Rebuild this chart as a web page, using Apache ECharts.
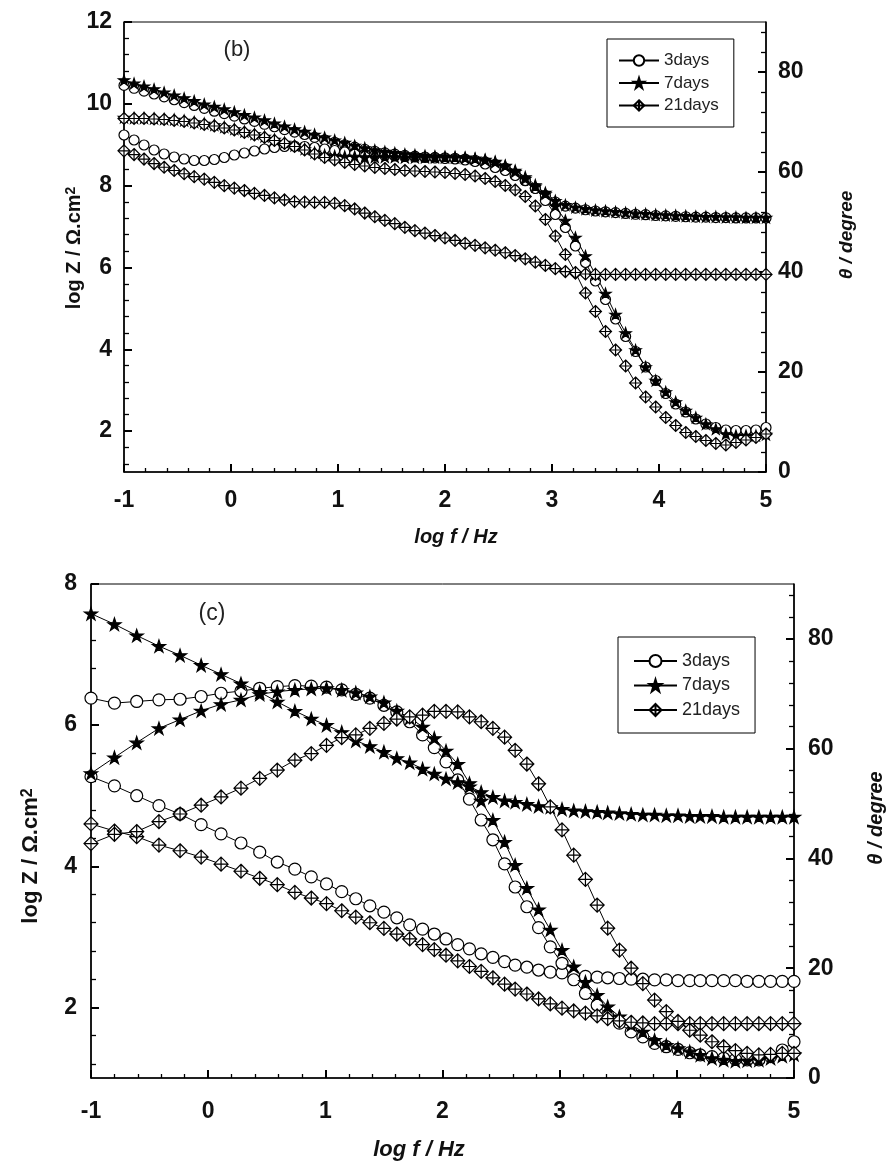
<!DOCTYPE html>
<html><head><meta charset="utf-8">
<script src="https://cdn.jsdelivr.net/npm/echarts@6/dist/echarts.min.js"></script>
<style>html,body{margin:0;padding:0;background:#fff}#c{width:890px;height:1164px}</style>
</head><body><div id="c"></div>
<script>
// ---------- Panel (b) ----------
const xB = [-1, -0.906, -0.813, -0.719, -0.625, -0.531, -0.438, -0.344, -0.25, -0.156, -0.063,
  0.031, 0.125, 0.219, 0.313, 0.406, 0.5, 0.594, 0.688, 0.781, 0.875, 0.969,
  1.063, 1.156, 1.25, 1.344, 1.438, 1.531, 1.625, 1.719, 1.813, 1.906,
  2.0, 2.094, 2.188, 2.281, 2.375, 2.469, 2.563, 2.656, 2.75, 2.844, 2.938,
  3.031, 3.125, 3.219, 3.313, 3.406, 3.5, 3.594, 3.688, 3.781, 3.875, 3.969,
  4.063, 4.156, 4.25, 4.344, 4.438, 4.531, 4.625, 4.719, 4.813, 4.906, 5.0];
const logZ3b = [10.45, 10.38, 10.31, 10.24, 10.17, 10.10, 10.03, 9.96, 9.89, 9.82,
  9.76, 9.70, 9.63, 9.57, 9.50, 9.44, 9.37, 9.31, 9.25, 9.18,
  9.12, 9.06, 9.00, 8.94, 8.89, 8.84, 8.80, 8.77, 8.74, 8.72,
  8.70, 8.69, 8.68, 8.67, 8.65, 8.62, 8.58, 8.52, 8.43, 8.29,
  8.12, 7.94, 7.76, 7.60, 7.50, 7.45, 7.41, 7.38, 7.36, 7.34,
  7.32, 7.30, 7.29, 7.27, 7.26, 7.25, 7.24, 7.23, 7.23, 7.22,
  7.22, 7.21, 7.21, 7.21, 7.21];
const logZ7b = [10.58, 10.50, 10.43, 10.36, 10.28, 10.21, 10.14, 10.07, 9.99, 9.93,
  9.87, 9.80, 9.73, 9.67, 9.60, 9.52, 9.45, 9.38, 9.32, 9.25,
  9.18, 9.11, 9.05, 8.98, 8.92, 8.87, 8.83, 8.80, 8.77, 8.75,
  8.73, 8.72, 8.71, 8.70, 8.69, 8.66, 8.62, 8.57, 8.48, 8.34,
  8.17, 7.98, 7.83, 7.63, 7.53, 7.47, 7.43, 7.40, 7.38, 7.36,
  7.34, 7.32, 7.31, 7.29, 7.28, 7.27, 7.26, 7.25, 7.24, 7.24,
  7.23, 7.23, 7.22, 7.22, 7.22];
const logZ21b = [8.85, 8.76, 8.65, 8.54, 8.45, 8.37, 8.29, 8.22, 8.16, 8.08,
  8.00, 7.94, 7.88, 7.81, 7.76, 7.70, 7.65, 7.61, 7.60, 7.59,
  7.59, 7.57, 7.51, 7.43, 7.33, 7.24, 7.15, 7.07, 6.98, 6.90,
  6.84, 6.78, 6.72, 6.66, 6.59, 6.54, 6.48, 6.42, 6.36, 6.29,
  6.21, 6.13, 6.05, 5.97, 5.90, 5.86, 5.84, 5.83, 5.83, 5.83,
  5.83, 5.83, 5.83, 5.83, 5.83, 5.83, 5.83, 5.83, 5.83, 5.83,
  5.83, 5.83, 5.83, 5.83, 5.83];
const theta3b = [67.4, 66.4, 65.4, 64.4, 63.6, 63.0, 62.6, 62.3, 62.3, 62.5,
  62.9, 63.4, 63.8, 64.2, 64.6, 64.9, 65.1, 65.2, 65.1, 64.9,
  64.6, 64.3, 64.0, 63.8, 63.6, 63.4, 63.3, 63.2, 63.1, 63.0,
  62.9, 62.8, 62.7, 62.6, 62.4, 62.1, 61.6, 60.9, 60.3, 59.3,
  58.3, 56.7, 54.3, 51.5, 48.9, 45.2, 41.9, 38.2, 34.5, 30.6,
  27.1, 24.1, 21.0, 18.3, 15.7, 13.6, 12.0, 10.6, 9.6, 8.9,
  8.4, 8.3, 8.3, 8.4, 8.9];
const theta7b = [70.9, 70.8, 70.8, 70.7, 70.6, 70.5, 70.3, 70.0, 69.7, 69.4,
  69.0, 68.6, 68.1, 67.6, 67.1, 66.5, 65.9, 65.3, 64.6, 63.9,
  63.4, 63.2, 63.1, 63.1, 63.0, 63.0, 63.0, 63.0, 62.9, 62.9,
  62.9, 62.9, 62.9, 62.9, 62.8, 62.7, 62.5, 62.1, 61.3, 60.3,
  59.0, 57.4, 55.6, 53.2, 50.3, 46.9, 43.2, 39.5, 35.7, 31.5,
  27.8, 24.4, 21.0, 18.3, 16.0, 14.0, 12.3, 10.9, 9.6, 8.6,
  7.6, 7.3, 7.3, 7.3, 7.5];
const theta21b = [70.7, 70.7, 70.7, 70.6, 70.5, 70.3, 70.1, 69.8, 69.5, 69.2,
  68.8, 68.4, 67.9, 67.4, 66.9, 66.3, 65.7, 65.1, 64.4, 63.6,
  62.9, 62.4, 61.9, 61.5, 61.2, 60.9, 60.7, 60.5, 60.3, 60.2,
  60.1, 60.0, 59.9, 59.7, 59.5, 59.2, 58.7, 58.1, 57.3, 56.4,
  55.1, 53.2, 50.5, 47.2, 43.5, 39.9, 35.8, 32.1, 28.1, 24.4,
  21.2, 17.8, 15.0, 13.0, 10.9, 9.3, 7.9, 7.1, 6.3, 5.7,
  5.4, 5.9, 6.4, 6.9, 7.6];

// ---------- Panel (c) ----------
const xC = [-1.0, -0.8, -0.61, -0.42, -0.24, -0.06, 0.11, 0.28, 0.44, 0.59,
  0.74, 0.88, 1.01, 1.14, 1.26, 1.38, 1.5, 1.61, 1.72, 1.83, 1.93,
  2.03, 2.13, 2.23, 2.33, 2.43, 2.53, 2.62, 2.72, 2.82, 2.92,
  3.02, 3.12, 3.22, 3.32, 3.41, 3.51, 3.61, 3.71, 3.81, 3.91,
  4.01, 4.11, 4.2, 4.3, 4.4, 4.5, 4.6, 4.7, 4.8, 4.9, 5.0];
const logZ3c = [5.27, 5.14, 5.0, 4.86, 4.74, 4.59, 4.46, 4.33, 4.2, 4.06,
  3.96, 3.85, 3.75, 3.64, 3.54, 3.44, 3.35, 3.27, 3.17, 3.11,
  3.04, 2.97, 2.89, 2.83, 2.76, 2.71, 2.65, 2.60, 2.57, 2.53,
  2.50, 2.49, 2.45, 2.44, 2.43, 2.42, 2.41, 2.40, 2.40, 2.39,
  2.39, 2.38, 2.38, 2.38, 2.38, 2.38, 2.38, 2.37, 2.37, 2.37,
  2.37, 2.37];
const logZ7c = [7.58, 7.43, 7.27, 7.12, 6.99, 6.85, 6.72, 6.59, 6.47, 6.33,
  6.20, 6.09, 6.0, 5.90, 5.78, 5.70, 5.62, 5.53, 5.47, 5.38,
  5.31, 5.24, 5.19, 5.13, 5.05, 4.98, 4.93, 4.91, 4.88, 4.85,
  4.84, 4.81, 4.79, 4.78, 4.77, 4.76, 4.75, 4.74, 4.73, 4.73,
  4.72, 4.72, 4.71, 4.71, 4.71, 4.70, 4.70, 4.70, 4.70, 4.70,
  4.70, 4.70];
const logZ21c = [4.60, 4.50, 4.42, 4.30, 4.22, 4.13, 4.03, 3.93, 3.83, 3.74,
  3.63, 3.55, 3.47, 3.37, 3.28, 3.20, 3.12, 3.04, 2.97, 2.89,
  2.82, 2.74, 2.66, 2.58, 2.51, 2.42, 2.33, 2.26, 2.19, 2.12,
  2.05, 1.99, 1.95, 1.92, 1.88, 1.84, 1.81, 1.79, 1.78, 1.77,
  1.77, 1.77, 1.77, 1.77, 1.77, 1.77, 1.77, 1.77, 1.77, 1.77,
  1.77, 1.77];
const theta3c = [69.2, 68.3, 68.6, 68.9, 69.0, 69.5, 70.1, 70.5, 71.0, 71.3,
  71.5, 71.4, 71.2, 70.7, 69.9, 69.2, 67.9, 66.7, 64.9, 62.5,
  60.2, 57.6, 54.3, 50.8, 47.0, 43.4, 39.0, 34.8, 31.2, 27.4,
  23.9, 20.9, 17.9, 15.4, 13.3, 11.5, 10.0, 8.4, 7.5, 6.3,
  5.7, 5.2, 4.6, 4.2, 3.9, 3.6, 3.4, 3.3, 3.3, 3.9,
  5.1, 6.6];
const theta7c = [55.5, 58.4, 61.1, 63.7, 65.3, 66.9, 68.1, 68.9, 69.9, 70.4,
  70.7, 70.9, 71.0, 70.7, 70.2, 69.5, 68.4, 66.9, 65.6, 64.0,
  61.9, 59.6, 57.2, 53.7, 50.5, 47.0, 43.0, 38.8, 34.6, 30.7,
  27.0, 23.3, 20.3, 17.5, 15.1, 13.0, 11.2, 9.7, 8.4, 6.9,
  6.0, 5.4, 4.8, 4.2, 3.6, 3.3, 3.1, 3.2, 3.3, 3.6,
  4.0, 4.3];
const theta21c = [42.7, 44.4, 44.9, 46.7, 48.1, 49.7, 51.2, 52.8, 54.6, 56.1,
  57.9, 59.1, 60.6, 62.0, 62.5, 63.7, 64.6, 65.4, 65.8, 66.1,
  66.8, 66.8, 66.7, 65.8, 64.9, 63.7, 62.1, 59.7, 57.2, 53.6,
  49.4, 45.2, 40.6, 36.2, 31.5, 27.3, 23.3, 20.0, 17.2, 14.2,
  12.1, 10.3, 8.7, 7.8, 6.6, 5.7, 5.0, 4.5, 4.2, 4.3,
  4.5, 4.5];

const seriesNames = ['3days', '7days', '21days'];
const logZTicksB = [2, 4, 6, 8, 10, 12];
const logZTicksC = [2, 4, 6, 8];
const thetaTicks = [0, 20, 40, 60, 80];

// ---------- styling ----------
const FONT = '"Liberation Sans", Arial, Helvetica, sans-serif';
const STAR = 'path://M0,-10L2.25,-3.09L9.51,-3.09L3.63,1.18L5.88,8.09L0,3.82L-5.88,8.09L-3.63,1.18L-9.51,-3.09L-2.25,-3.09Z';
const DIAX = 'path://M0,-10L10,0L0,10L-10,0Z M0,-10L0,10 M-10,0L10,0';
const symbolOf = {
  '3days': { symbol: 'circle', fill: '#fff' },
  '7days': { symbol: STAR, fill: '#000' },
  '21days': { symbol: DIAX, fill: '#fff' }
};
const sizeB = { '3days': 10, '7days': 11, '21days': 12 };
const sizeC = { '3days': 12, '7days': 13, '21days': 14 };

function minorVals(lo, hi, step, majors) {
  const out = [];
  for (let k = Math.ceil(lo / step - 1e-9); k * step <= hi + 1e-9; k++) {
    const v = +(k * step).toFixed(4);
    if (v > lo + 1e-9 && !majors.some(m => Math.abs(m - v) < 1e-6)) out.push(v);
  }
  return out;
}

function mkSeries(name, xs, ys, xi, yi, size) {
  const s = symbolOf[name];
  return {
    type: 'line', name, xAxisIndex: xi, yAxisIndex: yi,
    data: xs.map((x, i) => [x, ys[i]]),
    symbol: s.symbol, symbolSize: size,
    symbolKeepAspect: true, showSymbol: true, clip: false,
    lineStyle: { color: '#000', width: 1 },
    itemStyle: { color: s.fill, borderColor: '#000', borderWidth: 1.2 },
    emphasis: { disabled: true }, animation: false
  };
}

const labelStyle = { fontSize: 23, fontWeight: 'bold', color: '#111', fontFamily: FONT };
const axLine = { show: true, onZero: false, lineStyle: { color: '#000', width: 1.6 } };

function xAxisFor(gi, margin) {
  return {
    gridIndex: gi, type: 'value', position: 'bottom', min: -1, max: 5, interval: 1,
    axisLine: axLine,
    axisTick: { inside: true, length: 8, lineStyle: { color: '#000', width: 2 } },
    minorTick: { show: true, splitNumber: 5, length: 4, lineStyle: { color: '#000', width: 1.3 } },
    axisLabel: Object.assign({ margin, formatter: v => String(v) }, labelStyle),
    splitLine: { show: false }, minorSplitLine: { show: false }
  };
}
function yAxes(gi, lmin, lmax, lTicks, margin) {
  return [
    { gridIndex: gi, type: 'value', position: 'left', min: lmin, max: lmax,
      axisLine: axLine,
      axisTick: { inside: true, length: 8, lineStyle: { color: '#000', width: 2 }, customValues: lTicks },
      axisLabel: Object.assign({ margin, customValues: lTicks }, labelStyle),
      splitLine: { show: false } },
    { gridIndex: gi, type: 'value', position: 'left', min: lmin, max: lmax,
      axisLine: { show: false, onZero: false },
      axisTick: { inside: true, length: 5, lineStyle: { color: '#000', width: 1.3 }, customValues: minorVals(lmin, lmax, 0.4, lTicks) },
      axisLabel: { show: false }, splitLine: { show: false } },
    { gridIndex: gi, type: 'value', position: 'right', min: 0, max: 90,
      axisLine: axLine,
      axisTick: { inside: true, length: 8, lineStyle: { color: '#000', width: 2 }, customValues: thetaTicks },
      axisLabel: Object.assign({ margin, customValues: thetaTicks }, labelStyle),
      splitLine: { show: false } },
    { gridIndex: gi, type: 'value', position: 'right', min: 0, max: 90,
      axisLine: { show: false, onZero: false },
      axisTick: { inside: true, length: 5, lineStyle: { color: '#000', width: 1.3 }, customValues: minorVals(0, 90, 4, thetaTicks) },
      axisLabel: { show: false }, splitLine: { show: false } }
  ];
}

const series = [];
const bZ = { '3days': logZ3b, '7days': logZ7b, '21days': logZ21b };
const bT = { '3days': theta3b, '7days': theta7b, '21days': theta21b };
const cZ = { '3days': logZ3c, '7days': logZ7c, '21days': logZ21c };
const cT = { '3days': theta3c, '7days': theta7c, '21days': theta21c };
seriesNames.forEach(n => {
  series.push(mkSeries(n, xB, bZ[n], 0, 0, sizeB[n]));
  series.push(mkSeries(n, xB, bT[n], 0, 2, sizeB[n]));
  series.push(mkSeries(n, xC, cZ[n], 1, 4, sizeC[n]));
  series.push(mkSeries(n, xC, cT[n], 1, 6, sizeC[n]));
});

function titleText(x, y, text, size, italic, rot) {
  return { type: 'text', x, y, rotation: rot ? Math.PI / 2 : 0, silent: true,
    style: { text, fontSize: size, fontWeight: 'bold', fontStyle: italic ? 'italic' : 'normal',
      fontFamily: FONT, fill: '#111', align: 'center', verticalAlign: 'middle' } };
}
function logZTitle(x, y, size) {
  return { type: 'text', x, y, rotation: Math.PI / 2, silent: true,
    style: { text: '{a|log Z / Ω.cm}{s|2}', align: 'center', verticalAlign: 'middle',
      rich: {
        a: { fontSize: size, fontWeight: 'bold', fontFamily: FONT, fill: '#111', verticalAlign: 'bottom' },
        s: { fontSize: Math.round(size * 0.72), fontWeight: 'bold', fontFamily: FONT, fill: '#111', verticalAlign: 'top' }
      } } };
}

const option = {
  animation: false,
  backgroundColor: '#fff',
  grid: [
    { left: 124, top: 22, width: 642, height: 450, show: true, borderColor: '#000', borderWidth: 1 },
    { left: 91, top: 584, width: 703, height: 494, show: true, borderColor: '#000', borderWidth: 1 }
  ],
  xAxis: [xAxisFor(0, 17), xAxisFor(1, 22)],
  yAxis: yAxes(0, 1, 12, logZTicksB, 12).concat(yAxes(1, 1, 8, logZTicksC, 14)),
  legend: [
    { data: seriesNames, orient: 'vertical', left: 607, top: 39, padding: [13, 15, 13, 11],
      itemGap: 5.5, itemWidth: 40, itemHeight: 13, borderColor: '#000', borderWidth: 1,
      selectedMode: false, textStyle: { fontSize: 17, color: '#222', fontFamily: FONT } },
    { data: seriesNames, orient: 'vertical', left: 618, top: 637, padding: [15, 15, 14, 15],
      itemGap: 6.5, itemWidth: 43, itemHeight: 15, borderColor: '#000', borderWidth: 1,
      selectedMode: false, textStyle: { fontSize: 18, color: '#222', fontFamily: FONT } }
  ],
  graphic: [
    { type: 'text', x: 237, y: 50, silent: true, style: { text: '(b)', fontSize: 22, fontFamily: FONT, fill: '#222', align: 'center', verticalAlign: 'middle' } },
    { type: 'text', x: 212, y: 614, silent: true, style: { text: '(c)', fontSize: 23, fontFamily: FONT, fill: '#222', align: 'center', verticalAlign: 'middle' } },
    logZTitle(74, 248, 20),
    titleText(847, 235, 'θ / degree', 19, true, true),
    titleText(456, 537, 'log f / Hz', 20, true, false),
    logZTitle(31, 856, 22),
    titleText(876, 818, 'θ / degree', 20, true, true),
    titleText(419, 1150, 'log f / Hz', 22, true, false)
  ],
  series
};
const chart = echarts.init(document.getElementById('c'), null, { renderer: 'canvas' });
chart.setOption(option);
</script>
</body></html>
